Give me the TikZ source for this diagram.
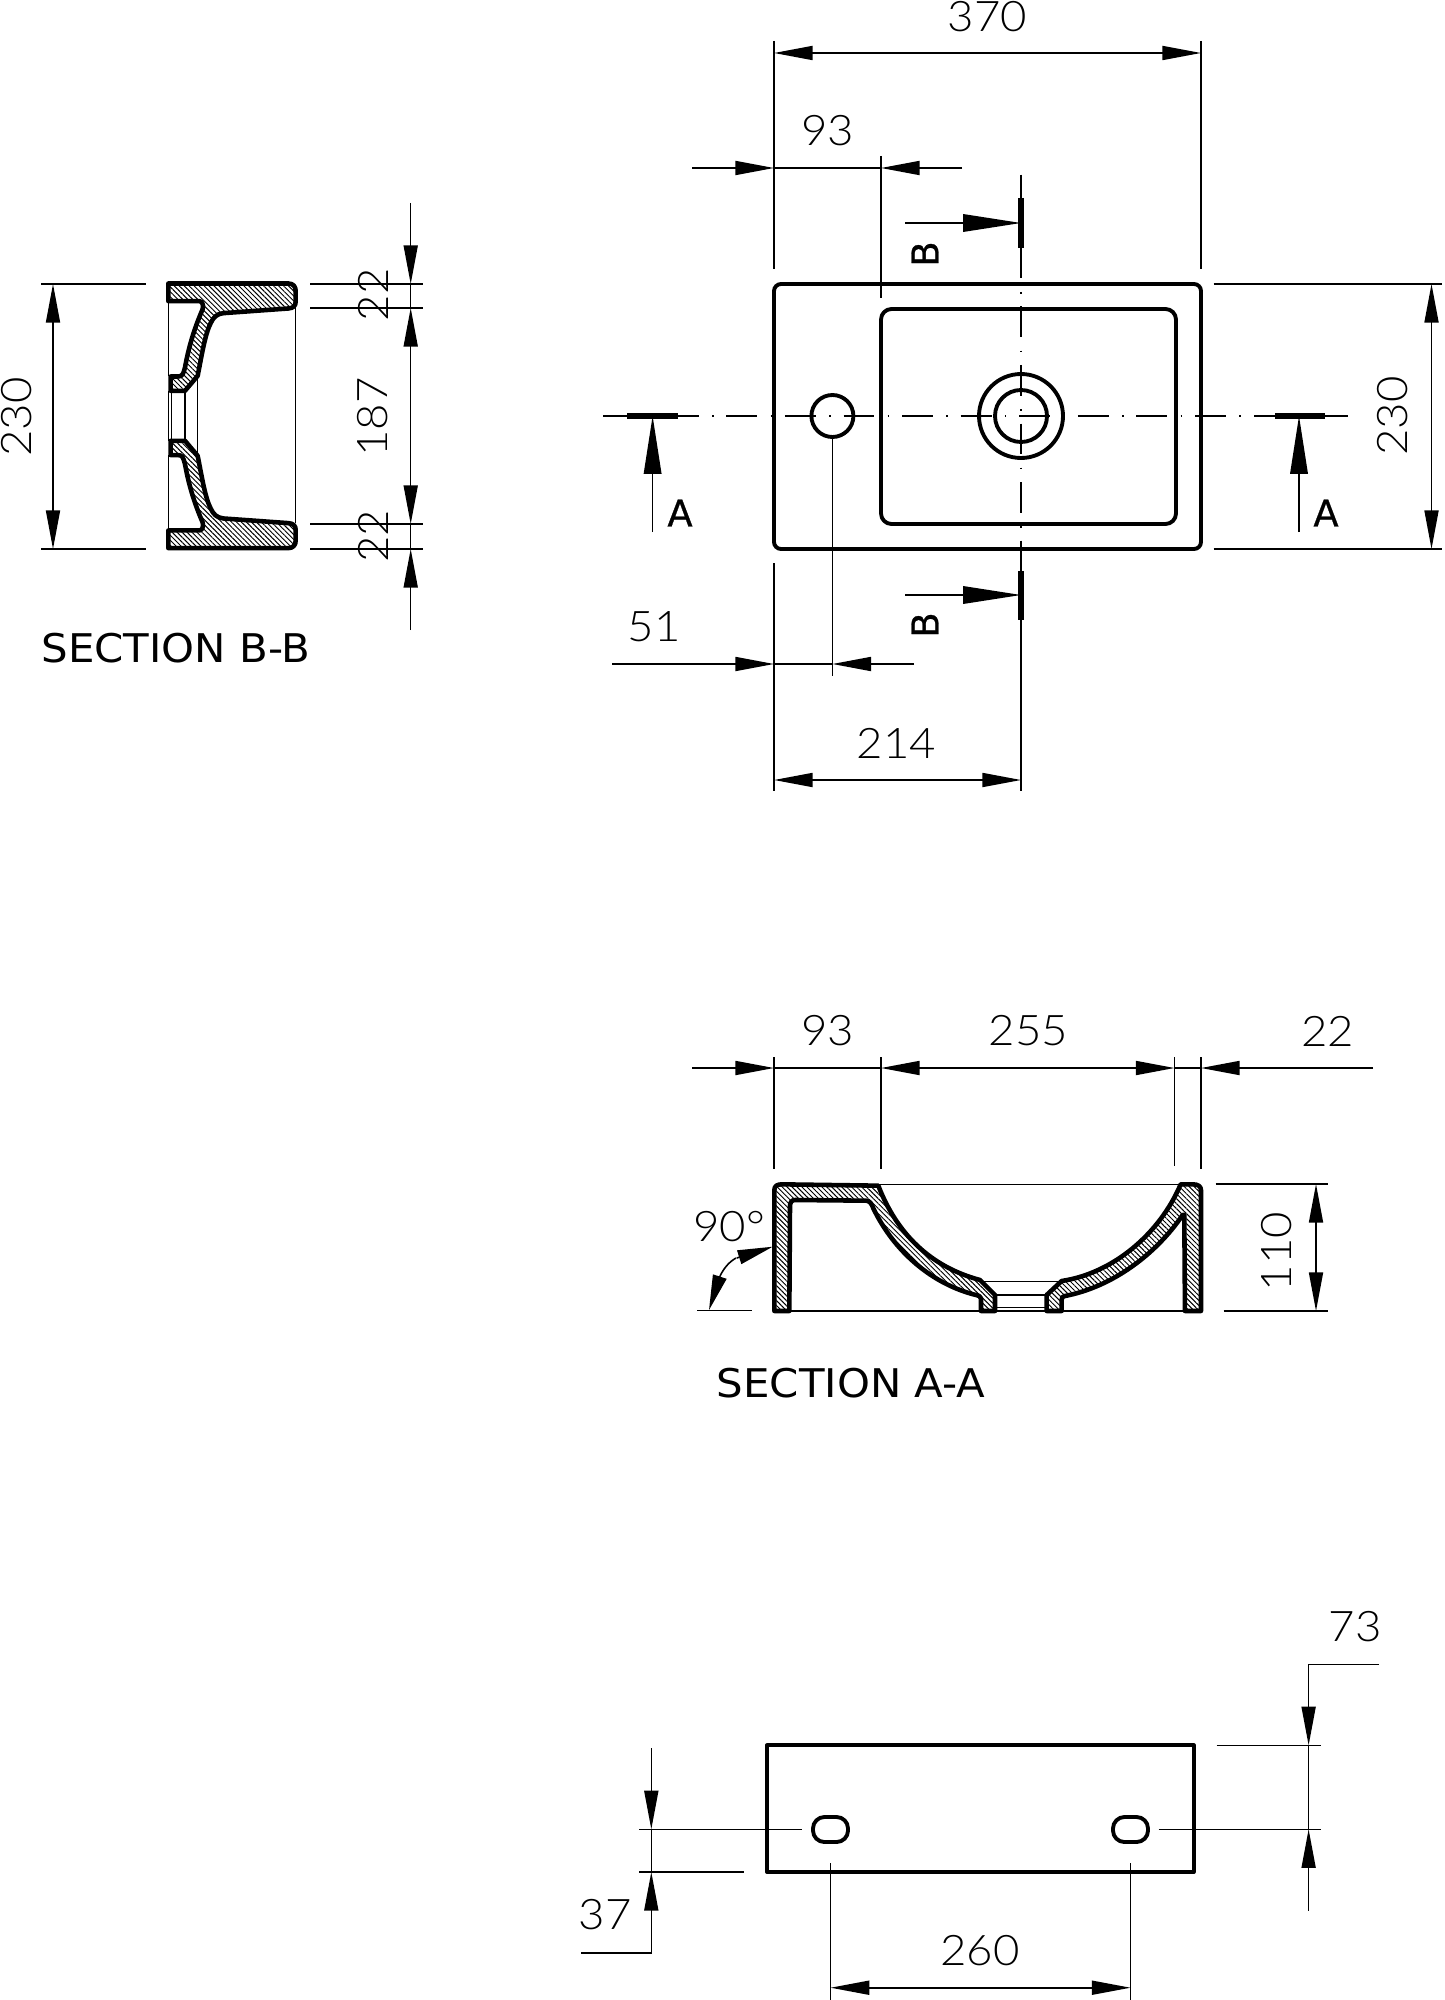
\documentclass[tikz,border=0pt]{standalone}
\usepackage{fontspec}
\usetikzlibrary{arrows.meta,patterns.meta}
\newfontfamily\dimfont[FakeStretch=1.08]{Lato Light}
\newfontfamily\secfont[FakeStretch=1.06]{DejaVu Sans}
\newfontfamily\cutfont[FakeBold=0.7]{DejaVu Sans}
\tikzset{
	thinline/.style={line width=0.9pt},
	dimarrow/.style={thinline,-{Triangle[length=22pt,width=8pt]}},
	dimboth/.style={thinline,{Triangle[length=22pt,width=8pt]}-{Triangle[length=22pt,width=8pt]}},
	bigarrow/.style={thinline,-{Triangle[length=33pt,width=10pt]}},
	anglearrow/.style={thinline,-{Triangle[length=20pt,width=8pt]}},
	outline/.style={line width=2.2pt,line join=round},
	secpart/.style={line width=2.6pt,line join=round,pattern={Lines[angle=-45,distance=2pt,line width=0.55pt]}},
	centreline/.style={thinline,dash pattern=on 0.9pt off 7.3pt on 17.6pt off 7.54pt},
	cutbar/.style={line width=3pt},
	dimtext/.style={font=\dimfont\fontsize{24}{24}\selectfont,inner sep=0pt},
	sectext/.style={font=\secfont\fontsize{22.5}{24}\selectfont,inner sep=0pt},
	cuttext/.style={font=\cutfont\fontsize{21}{22}\selectfont,inner sep=0pt}
}
\begin{document}
\begin{tikzpicture}[x=0.02cm,y=-0.02cm]
	\useasboundingbox (0,0) rectangle (1444,2000);

	\begin{scope}[shift={(150,415.8)}]
		\foreach \s in {1,-1}{
			\begin{scope}[xscale=0.3333,yscale={\s*0.3333}]
				\draw[secpart] (55,-397) -- (415,-397) .. controls (430,-397) and (437,-387) .. (437,-375) -- (437,-342) .. controls (437,-330) and (430,-323) .. (415,-322) -- (220,-308) .. controls (200,-306) and (190,-295) .. (182,-278) .. controls (165,-245) and (155,-180) .. (143,-120) -- (105,-75) -- (62,-75) -- (62,-118) -- (85,-118) .. controls (97,-118) and (100,-125) .. (105,-145) .. controls (115,-200) and (130,-255) .. (158,-320) .. controls (162,-335) and (155,-344) .. (148,-344) -- (55,-344) -- cycle;
				\draw[thinline] (55,-344) -- (55,-118);
			\end{scope}
		}
		\begin{scope}[scale=0.3333]
			\draw[thinline] (55,-75) -- (55,75);
			\draw[thinline] (65,-75) -- (65,75);
			\draw[thinline] (105,-75) -- (105,75);
			\draw[thinline] (143,-120) -- (143,120);
			\draw[thinline] (437,-322) -- (437,322);
		\end{scope}
	\end{scope}
	\draw[thinline] (41,284) -- (146,284);
	\draw[thinline] (41,549) -- (146,549);
	\draw[dimboth] (53,284) -- (53,549);
	\node[dimtext,rotate=90] (bbwidth) at (17,417) {230};
	\foreach \y in {284,308,524,549}{
		\draw[thinline] (310,\y) -- (423,\y);
	}
	\draw[dimarrow] (410.7,203) -- (410.7,284);
	\draw[thinline] (410.7,284) -- (410.7,308);
	\draw[dimboth] (410.7,308) -- (410.7,524);
	\draw[thinline] (410.7,524) -- (410.7,549);
	\draw[dimarrow] (410.7,630) -- (410.7,549);
	\node[dimtext,rotate=90] (bbtop) at (373,295) {22};
	\node[dimtext,rotate=90] (bbmid) at (373,417) {187};
	\node[dimtext,rotate=90] (bbbot) at (373,536) {22};
	\node[sectext] (bbtitle) at (176,648) {SECTION B-B};

	\draw[outline,rounded corners=4pt] (774,284) rectangle (1201,549);
	\draw[outline,rounded corners=6pt] (881,309) rectangle (1176,524);
	\draw[outline] (1021,416) circle (42);
	\draw[outline] (1021,416) circle (26);
	\draw[outline] (832.4,416) circle (21);
	\draw[thinline] (603,416) -- (699,416);
	\draw[centreline] (712,416) -- (1241,416);
	\draw[thinline] (1254,416) -- (1348,416);
	\draw[thinline] (1021,174.7) -- (1021,278.3);
	\draw[centreline] (1021,292) -- (1021,528);
	\draw[thinline] (1021,540.7) -- (1021,791);
	\draw[cutbar] (627,416) -- (678,416);
	\draw[cutbar] (1275,416) -- (1325,416);
	\draw[cutbar] (1021,198) -- (1021,248);
	\draw[cutbar] (1021,571) -- (1021,620);
	\draw[bigarrow] (652.6,532) -- (652.6,416);
	\draw[bigarrow] (1299,532) -- (1299,416);
	\draw[bigarrow] (905,223) -- (1021,223);
	\draw[bigarrow] (905,595) -- (1021,595);
	\node[cuttext] (cutaleft) at (680,513) {A};
	\node[cuttext] (cutaright) at (1326,513) {A};
	\node[cuttext,rotate=90] (cutbtop) at (925,254) {B};
	\node[cuttext,rotate=90] (cutbbot) at (925,625) {B};
	\draw[thinline] (774,41) -- (774,269);
	\draw[thinline] (1201,41) -- (1201,269);
	\draw[dimboth] (774,53) -- (1201,53);
	\node[dimtext] (topwidth) at (987.6,17) {370};
	\draw[thinline] (881,156) -- (881,298);
	\draw[dimarrow] (692,168) -- (774,168);
	\draw[thinline] (774,168) -- (881,168);
	\draw[dimarrow] (962,168) -- (881,168);
	\node[dimtext] (topoff) at (827.5,131) {93};
	\draw[thinline] (1213.6,284) -- (1442,284);
	\draw[thinline] (1213.6,549) -- (1442,549);
	\draw[dimboth] (1431.5,284) -- (1431.5,549);
	\node[dimtext,rotate=90] (topdepth) at (1393,416) {230};
	\draw[thinline] (774,563) -- (774,791);
	\draw[thinline] (832.4,438) -- (832.4,676);
	\draw[dimarrow] (612,664) -- (774,664);
	\draw[thinline] (774,664) -- (832.4,664);
	\draw[dimarrow] (914,664) -- (832.4,664);
	\node[dimtext] (tophole) at (654,626.5) {51};
	\draw[dimboth] (774,780) -- (1021,780);
	\node[dimtext] (topdrain) at (896.6,743) {214};

	\begin{scope}[shift={(760,1170)},scale=0.3333]
		\draw[secpart] (43,423) -- (43,60) .. controls (43,48) and (52,43) .. (65,43) -- (355,47) .. controls (410,190) and (510,290) .. (660,330) -- (705,375) -- (705,423) -- (663,423) -- (663,385) .. controls (660,378) .. (640,373) .. controls (500,335) and (395,230) .. (340,115) .. controls (335,100) and (328,92) .. (318,92) -- (105,90) .. controls (95,90) and (90,97) .. (90,108) -- (88,423) -- cycle;
		\draw[secpart] (1323,423) -- (1323,60) .. controls (1323,50) and (1315,43) .. (1300,43) -- (1262,43) .. controls (1200,190) and (1060,310) .. (905,333) -- (860,375) -- (860,423) -- (905,423) -- (905,390) .. controls (907,380) .. (915,378) .. controls (1060,350) and (1190,250) .. (1268,135) -- (1273,135) -- (1275,423) -- cycle;
		\draw[thinline] (355,43) -- (1262,43);
		\draw[thinline] (88,423) -- (1275,423);
		\draw[thinline] (665,335) -- (905,335);
		\draw[thinline] (708,375) -- (858,375);
		\draw[thinline] (708,412) -- (858,412);
	\end{scope}
	\foreach \x/\yend in {774/1169,881/1169,1174.5/1166,1201/1169}{
		\draw[thinline] (\x,1057) -- (\x,\yend);
	}
	\draw[dimarrow] (692,1068) -- (774,1068);
	\draw[thinline] (774,1068) -- (881,1068);
	\draw[dimboth] (881,1068) -- (1174.5,1068);
	\draw[thinline] (1174.5,1068) -- (1201,1068);
	\draw[dimarrow] (1373,1068) -- (1201,1068);
	\node[dimtext] (aaoff) at (827.6,1031) {93};
	\node[dimtext] (aabowl) at (1028.5,1031) {255};
	\node[dimtext] (aarim) at (1327.6,1031) {22};
	\draw[thinline] (697,1310.5) -- (752,1310.5);
	\draw[thinline] (736,1258) .. controls (729,1262) and (724,1268) .. (720,1276);
	\draw[anglearrow] (736.7,1258) -- (772.7,1246.7);
	\draw[anglearrow] (720,1276) -- (709,1310);
	\node[dimtext] (aaangle) at (729,1227) {90°};
	\draw[thinline] (1215.5,1184) -- (1327.6,1184);
	\draw[thinline] (1223.6,1311) -- (1327.6,1311);
	\draw[dimboth] (1316,1184) -- (1316,1311);
	\node[dimtext,rotate=90] (aaheight) at (1277,1251.6) {110};
	\node[sectext] (aatitle) at (851,1383) {SECTION A-A};

	\draw[outline] (767,1745.3) rectangle (1193.6,1872);
	\draw[outline,rounded corners=6.5pt] (813,1817) rectangle (848,1842);
	\draw[outline,rounded corners=6.5pt] (1113,1817) rectangle (1148,1842);
	\draw[thinline] (639,1829.3) -- (802.4,1829.3);
	\draw[thinline] (1158.6,1829.3) -- (1321,1829.3);
	\draw[thinline] (639,1872) -- (744,1872);
	\draw[thinline] (1216.7,1745.3) -- (1321,1745.3);
	\draw[dimarrow] (651.3,1748) -- (651.3,1829.3);
	\draw[thinline] (651.3,1829.3) -- (651.3,1872);
	\draw[dimarrow] (581,1952.7) -- (651.3,1952.7) -- (651.3,1872);
	\draw[dimarrow] (1379,1664.3) -- (1308.6,1664.3) -- (1308.6,1745.3);
	\draw[thinline] (1308.6,1745.3) -- (1308.6,1829.3);
	\draw[dimarrow] (1308.6,1910.7) -- (1308.6,1829.3);
	\node[dimtext] (backtop) at (1355,1626.7) {73};
	\node[dimtext] (backbot) at (605,1915) {37};
	\draw[thinline] (830.6,1863) -- (830.6,2000);
	\draw[thinline] (1130.5,1863) -- (1130.5,2000);
	\draw[dimboth] (830.6,1987.7) -- (1130.5,1987.7);
	\node[dimtext] (backspan) at (980,1950.7) {260};
\end{tikzpicture}
\end{document}
